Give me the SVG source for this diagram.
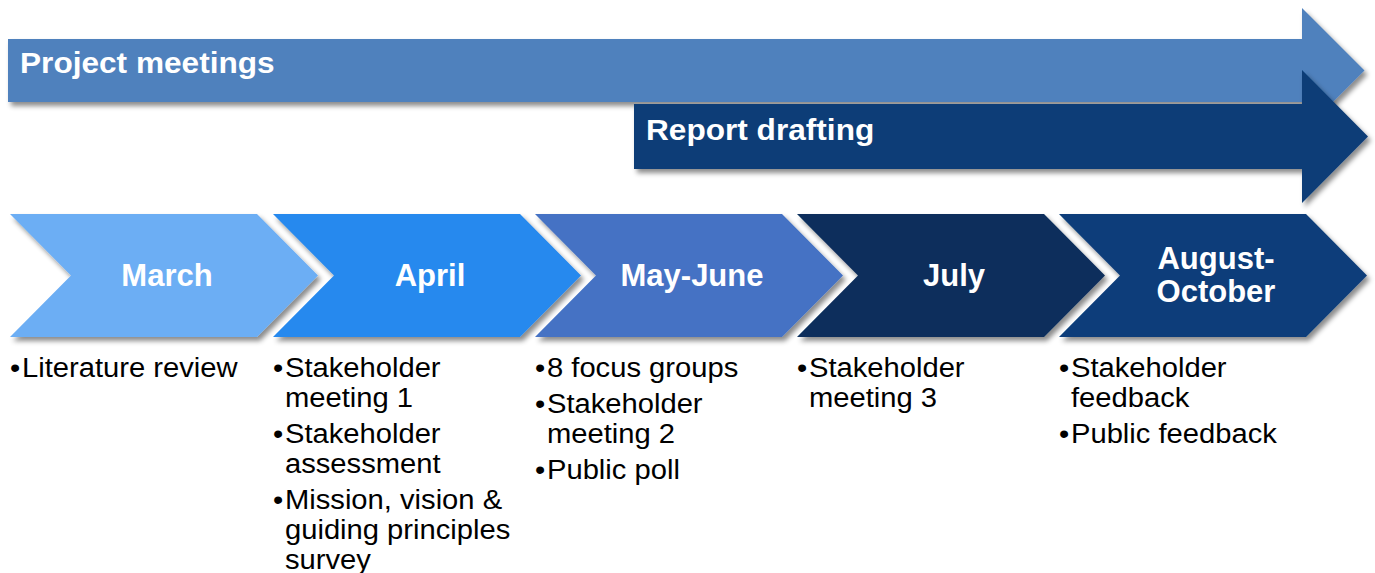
<svg xmlns="http://www.w3.org/2000/svg" width="1375" height="573" viewBox="0 0 1375 573">
  <defs>
    <filter id="sh" x="-5%" y="-20%" width="112%" height="150%">
      <feDropShadow dx="3" dy="4" stdDeviation="2.5" flood-color="#000" flood-opacity="0.45"/>
    </filter>
  </defs>
  <style>
    .bar { filter: url(#sh); }
    .barlabel { font-family: "Liberation Sans", Arial, sans-serif; font-weight: bold; font-size: 29px; fill: #ffffff; }
    .month { font-family: "Liberation Sans", Arial, sans-serif; font-weight: bold; font-size: 31px; fill: #ffffff; text-anchor: middle; }
    .item { font-family: "Liberation Sans", Arial, sans-serif; font-size: 27px; fill: #000000; }
  </style>
  <rect width="1375" height="573" fill="#ffffff"/>

  <g id="project-meetings">
    <polygon class="bar" points="8,39 1302,39 1302,8 1364.5,70.5 1302,133 1302,102 8,102" fill="#4f81bd"/>
    <text class="barlabel" transform="translate(20,73) scale(1.09,1)">Project meetings</text>
  </g>

  <g id="report-drafting">
    <polygon class="bar" points="634,104 1302,104 1302,70 1368,136.5 1302,203 1302,169 634,169" fill="#0b3d77"/>
    <text class="barlabel" transform="translate(646,140) scale(1.09,1)">Report drafting</text>
  </g>

  <g id="march">
    <polygon class="bar" points="10,214 257,214 318,275.5 257,337 10,337 71,275.5" fill="#6caef4"/>
    <text class="month" x="167" y="286">March</text>
  </g>
  <g id="april">
    <polygon class="bar" points="273,214 520,214 581,275.5 520,337 273,337 334,275.5" fill="#2889ee"/>
    <text class="month" x="430" y="286">April</text>
  </g>
  <g id="may-june">
    <polygon class="bar" points="535,214 782,214 843,275.5 782,337 535,337 596,275.5" fill="#4472c4"/>
    <text class="month" x="692" y="286">May-June</text>
  </g>
  <g id="july">
    <polygon class="bar" points="797,214 1044,214 1105,275.5 1044,337 797,337 858,275.5" fill="#0a2e5c"/>
    <text class="month" x="954" y="286">July</text>
  </g>
  <g id="august-october">
    <polygon class="bar" points="1059,214 1306,214 1367,275.5 1306,337 1059,337 1120,275.5" fill="#0a3e7a"/>
    <text class="month" x="1216" y="268.5">August-</text>
    <text class="month" x="1216" y="301.5">October</text>
  </g>

  <g id="march-items" transform="translate(10,0) scale(1.08,1)">
    <text class="item" x="0" y="377">•</text>
    <text class="item" x="11.1" y="377">Literature review</text>
  </g>
  <g id="april-items" transform="translate(273,0) scale(1.08,1)">
    <text class="item" x="0" y="377">•</text>
    <text class="item" x="11.1" y="377">Stakeholder</text>
    <text class="item" x="11.1" y="407">meeting 1</text>
    <text class="item" x="0" y="443">•</text>
    <text class="item" x="11.1" y="443">Stakeholder</text>
    <text class="item" x="11.1" y="473">assessment</text>
    <text class="item" x="0" y="509">•</text>
    <text class="item" x="11.1" y="509">Mission, vision &amp;</text>
    <text class="item" x="11.1" y="539">guiding principles</text>
    <text class="item" x="11.1" y="569">survey</text>
  </g>
  <g id="may-june-items" transform="translate(535,0) scale(1.08,1)">
    <text class="item" x="0" y="377">•</text>
    <text class="item" x="11.1" y="377">8 focus groups</text>
    <text class="item" x="0" y="413">•</text>
    <text class="item" x="11.1" y="413">Stakeholder</text>
    <text class="item" x="11.1" y="443">meeting 2</text>
    <text class="item" x="0" y="479">•</text>
    <text class="item" x="11.1" y="479">Public poll</text>
  </g>
  <g id="july-items" transform="translate(797,0) scale(1.08,1)">
    <text class="item" x="0" y="377">•</text>
    <text class="item" x="11.1" y="377">Stakeholder</text>
    <text class="item" x="11.1" y="407">meeting 3</text>
  </g>
  <g id="august-october-items" transform="translate(1059,0) scale(1.08,1)">
    <text class="item" x="0" y="377">•</text>
    <text class="item" x="11.1" y="377">Stakeholder</text>
    <text class="item" x="11.1" y="407">feedback</text>
    <text class="item" x="0" y="443">•</text>
    <text class="item" x="11.1" y="443">Public feedback</text>
  </g>

  <g id="connectors"/>
</svg>
